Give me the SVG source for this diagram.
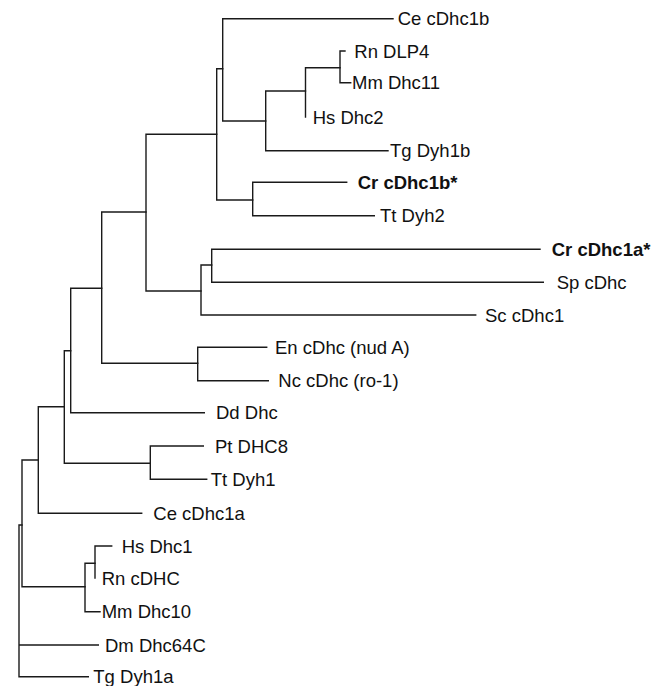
<svg xmlns="http://www.w3.org/2000/svg" width="663" height="686" viewBox="0 0 663 686">
<style>
.e{fill:none;stroke:#1a1a1a;stroke-width:1.4;stroke-linecap:square}
text{font-family:"Liberation Sans",Arial,Helvetica,sans-serif;font-size:18.5px;fill:#111}
.b{font-weight:bold}
</style>
<rect width="663" height="686" fill="#fff"/>
<g id="connectors" class="e">
<path d="M19,525V676.7M19,525H22M19,645H98.3M19,676.7H88.3"/>
<path d="M22,460V586.7M22,460H38.3M22,586.7H85"/>
<path d="M85,563.3V611.7M85,563.3H95M85,611.7H100"/>
<path d="M95,546V578M95,546H111.7"/>
<path d="M38.3,406.7V513.3M38.3,406.7H64.3M38.3,513.3H141.7"/>
<path d="M64.3,350.7V463.3M64.3,350.7H70.7M64.3,463.3H150.3"/>
<path d="M150.3,446V479.3M150.3,446H203.3M150.3,479.3H206.7"/>
<path d="M70.7,288.3V412.7M70.7,288.3H101.7M70.7,412.7H204.3"/>
<path d="M101.7,212V363.3M101.7,212H146M101.7,363.3H197.7"/>
<path d="M197.7,347.3V380.7M197.7,347.3H266.7M197.7,380.7H268.3"/>
<path d="M146,134.3V291M146,134.3H216.7M146,291H201"/>
<path d="M201,265V315M201,265H211.7M201,315H475.7"/>
<path d="M211.7,249.3V282.3M211.7,249.3H540M211.7,282.3H543.3"/>
<path d="M216.7,68.7V200M216.7,68.7H222.7M216.7,200H252.7"/>
<path d="M252.7,182.3V215.7M252.7,182.3H346.7M252.7,215.7H374.3"/>
<path d="M222.7,18.7V121M222.7,18.7H393M222.7,121H265.7"/>
<path d="M265.7,91V150.7M265.7,91H305.5M265.7,150.7H388"/>
<path d="M305.5,67.7V117M305.5,67.7H340"/>
<path d="M340,51V82.7M340,51H345M340,82.7H350.7"/>
</g>
<g id="Ce_cDhc1b"><text x="397.7" y="25.2">Ce cDhc1b</text></g>
<g id="Rn_DLP4"><text x="354.3" y="57.5">Rn DLP4</text></g>
<g id="Mm_Dhc11"><text x="352" y="89.2">Mm Dhc11</text></g>
<g id="Hs_Dhc2"><text x="312.7" y="123.5">Hs Dhc2</text></g>
<g id="Tg_Dyh1b"><text x="390" y="157.2">Tg Dyh1b</text></g>
<g id="Cr_cDhc1b"><text class="b" x="357.7" y="188.8">Cr cDhc1b*</text></g>
<g id="Tt_Dyh2"><text x="380" y="222.2">Tt Dyh2</text></g>
<g id="Cr_cDhc1a"><text class="b" x="551.7" y="255.8">Cr cDhc1a*</text></g>
<g id="Sp_cDhc"><text x="556.7" y="288.8">Sp cDhc</text></g>
<g id="Sc_cDhc1"><text x="485" y="321.5">Sc cDhc1</text></g>
<g id="En_cDhc"><text x="275" y="353.8">En cDhc (nud A)</text></g>
<g id="Nc_cDhc"><text x="278.3" y="387.2">Nc cDhc (ro-1)</text></g>
<g id="Dd_Dhc"><text x="216" y="419.2">Dd Dhc</text></g>
<g id="Pt_DHC8"><text x="215" y="452.5">Pt DHC8</text></g>
<g id="Tt_Dyh1"><text x="210.7" y="485.8">Tt Dyh1</text></g>
<g id="Ce_cDhc1a"><text x="153.3" y="519.8">Ce cDhc1a</text></g>
<g id="Hs_Dhc1"><text x="121.7" y="552.5">Hs Dhc1</text></g>
<g id="Rn_cDHC"><text x="101.7" y="584.5">Rn cDHC</text></g>
<g id="Mm_Dhc10"><text x="101.7" y="618.2">Mm Dhc10</text></g>
<g id="Dm_Dhc64C"><text x="105" y="651.5">Dm Dhc64C</text></g>
<g id="Tg_Dyh1a"><text x="93.3" y="683.2">Tg Dyh1a</text></g>
</svg>
